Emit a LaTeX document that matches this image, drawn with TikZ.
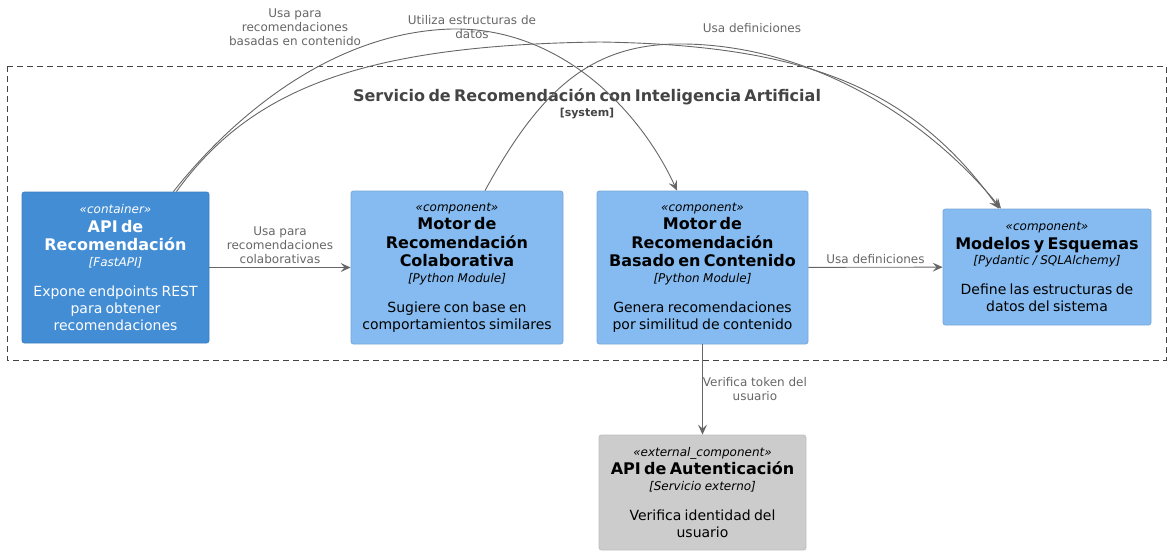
\documentclass[tikz,border=0pt]{standalone}
\usepackage{fontspec}
\setmainfont{DejaVu Sans}
\usetikzlibrary{arrows.meta, calc, positioning}
\definecolor{contfill}{RGB}{67,141,213}
\definecolor{contline}{RGB}{60,127,192}
\definecolor{compfill}{RGB}{133,187,240}
\definecolor{compline}{RGB}{120,168,216}
\definecolor{extfill}{RGB}{204,204,204}
\definecolor{extline}{RGB}{191,191,191}
\definecolor{relcol}{RGB}{102,102,102}
\definecolor{framecol}{RGB}{68,68,68}

\newcommand{\elem}[4]{%
  {\fontsize{12}{14}\selectfont\itshape «#1»\par}%
  {\fontsize{16}{18.5}\selectfont\bfseries #2\par}%
  {\fontsize{12}{15.5}\selectfont\itshape [#3]\par}%
  \vspace{13pt}%
  {\fontsize{14}{17}\selectfont #4\par}}

\tikzset{
  box/.style={rounded corners=2.5pt, align=center, inner xsep=5pt, inner ysep=0pt, line width=0.8pt},
  contbox/.style={box, fill=contfill, draw=contline, text=white},
  compbox/.style={box, fill=compfill, draw=compline, text=black},
  extbox/.style={box, fill=extfill, draw=extline, text=black},
  rel/.style={draw=relcol, line width=0.9pt, -{Stealth[length=10pt,width=9pt,inset=4pt]}},
  rellabel/.style={text=relcol, font=\fontsize{12}{14}\selectfont, align=center, inner sep=2pt},
  frame/.style={draw=framecol, line width=0.9pt, dash pattern=on 6pt off 4pt}
}

\begin{document}
\begin{tikzpicture}[x=1pt, y=-1pt]
\useasboundingbox (0,0) rectangle (1172,555);

% system boundary
\draw[frame] (7,66) rectangle (1166,360);
\node[text=framecol, align=center, text width=600pt, inner sep=0pt] (sysname) at (587,104)
  {{\fontsize{16}{18}\selectfont\bfseries Servicio de Recomendación con Inteligencia Artificial\par}%
   {\fontsize{11}{15}\selectfont\bfseries [system]\par}};

% elements
\node[contbox, minimum width=187pt, minimum height=151pt, text width=177pt] (api) at (115.5,267.5)
  {\elem{container}{API de\\Recomendación}{FastAPI}{Expone endpoints REST\\para obtener\\recomendaciones}};
\node[compbox, minimum width=212pt, minimum height=153pt, text width=202pt] (colab) at (457,267.5)
  {\elem{component}{Motor de\\Recomendación\\Colaborativa}{Python Module}{Sugiere con base en\\comportamientos similares}};
\node[compbox, minimum width=211pt, minimum height=153pt, text width=201pt] (cont) at (702.5,267.5)
  {\elem{component}{Motor de\\Recomendación\\Basado en Contenido}{Python Module}{Genera recomendaciones\\por similitud de contenido}};
\node[compbox, minimum width=208pt, minimum height=116pt, text width=198pt] (model) at (1047,267)
  {\elem{component}{Modelos y Esquemas}{Pydantic / SQLAlchemy}{Define las estructuras de\\datos del sistema}};
\node[extbox, minimum width=207pt, minimum height=115pt, text width=197pt] (auth) at (702.5,492.5)
  {\elem{external\_component}{API de Autenticación}{Servicio externo}{Verifica identidad del\\usuario}};

% relations
\draw[rel] (api) -- node[rellabel, above=1pt] {Usa para\\recomendaciones\\colaborativas} (colab);
\draw[rel] (cont) -- node[rellabel, above=1pt] {Usa definiciones} (model);
\draw[rel] (cont) -- node[rellabel, right=-2pt] {Verifica token del\\usuario} (auth);
\draw[rel] ([xshift=-36pt]api.north east) .. controls (230,120) and (330,32) .. (452,29)
  .. controls (560,27) and (640,110) .. ([xshift=-25.5pt]cont.north)
  node[rellabel] at (472,27.5) {Utiliza estructuras de\\datos};
\draw[rel] ([xshift=-33pt]api.north east) .. controls (250,90) and (360,45) .. (600,42)
  .. controls (800,45) and (910,85) .. ([xshift=-48pt]model.north)
  node[rellabel] at (295,27.5) {Usa para\\recomendaciones\\basadas en contenido};
\draw[rel] ([xshift=28pt]colab.north) .. controls (540,90) and (590,46) .. (674,44)
  .. controls (800,42) and (920,110) .. ([xshift=-46pt]model.north)
  node[rellabel] at (752,28) {Usa definiciones};
\end{tikzpicture}
\end{document}
